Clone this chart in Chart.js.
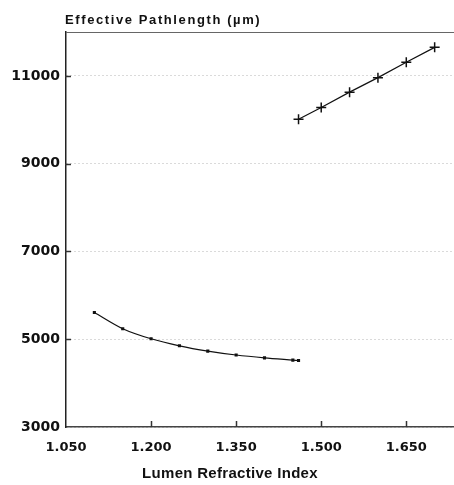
<!DOCTYPE html>
<html>
<head>
<meta charset="utf-8">
<script src="https://cdn.jsdelivr.net/npm/chart.js@4"></script>
<style>
  html, body { margin: 0; padding: 0; background: #fff; overflow: hidden; }
  /* a bit wider than the window: the plot runs off the right edge, as in the figure */
  #wrap { width: 461px; height: 485px; position: relative; }
  canvas { display: block; }
</style>
</head>
<body>
<div id="wrap"><canvas id="chart"></canvas></div>
<script>
// values
const lowerX = [1.10, 1.15, 1.20, 1.25, 1.30, 1.35, 1.40, 1.45, 1.46];
const lowerY = [5610, 5240, 5010, 4850, 4730, 4640, 4575, 4525, 4515];
const upperX = [1.46, 1.50, 1.55, 1.60, 1.65, 1.70];
const upperY = [10010, 10280, 10630, 10960, 11310, 11650];
const xTicks = [1.05, 1.20, 1.35, 1.50, 1.65];
const yTicks = [3000, 5000, 7000, 9000, 11000];
const yTitle = 'Effective Pathlength (µm)';
const xTitle = 'Lumen Refractive Index';

(function() {
  const ink = '#111';

  // inward tick marks, top frame line and the two axis titles
  const decor = {
    id: 'decor',
    afterDraw(chart) {
      const ctx = chart.ctx;
      const area = chart.chartArea;
      const xs = chart.scales.x, ys = chart.scales.y;
      ctx.save();
      ctx.strokeStyle = '#333';
      ctx.lineWidth = 1.5;
      xTicks.slice(1).forEach(v => {
        const px = Math.round(xs.getPixelForValue(v)) + 0.5;
        ctx.beginPath();
        ctx.moveTo(px, area.bottom);
        ctx.lineTo(px, area.bottom - 6);
        ctx.stroke();
      });
      yTicks.slice(1).forEach(v => {
        const py = Math.round(ys.getPixelForValue(v)) + 0.5;
        ctx.beginPath();
        ctx.moveTo(area.left - 1, py);
        ctx.lineTo(area.left + 5, py);
        ctx.stroke();
      });
      // top frame
      ctx.strokeStyle = '#666';
      ctx.lineWidth = 1;
      ctx.beginPath();
      ctx.moveTo(area.left, area.top + 0.5);
      ctx.lineTo(area.right, area.top + 0.5);
      ctx.stroke();

      ctx.fillStyle = ink;
      ctx.textBaseline = 'alphabetic';
      ctx.textAlign = 'left';
      ctx.font = 'bold 13px "Liberation Sans", Arial, sans-serif';
      if ('letterSpacing' in ctx) ctx.letterSpacing = '1.6px';
      ctx.fillText(yTitle, 65, 24);
      if ('letterSpacing' in ctx) ctx.letterSpacing = '0.3px';
      ctx.textAlign = 'center';
      ctx.font = 'bold 15px "Liberation Sans", Arial, sans-serif';
      ctx.fillText(xTitle, 230, 478);
      ctx.restore();
    }
  };

  const el = document.getElementById('chart');
  new Chart(el.getContext('2d'), {
    type: 'scatter',
    data: {
      datasets: [{
        label: 'lower',
        data: lowerX.map((x, i) => ({ x, y: lowerY[i] })),
        showLine: true,
        borderColor: ink,
        borderWidth: 1.2,
        tension: 0.3,
        pointStyle: 'rect',
        pointRadius: 2.2,
        pointBackgroundColor: ink,
        pointBorderColor: ink,
        pointBorderWidth: 0
      }, {
        label: 'upper',
        data: upperX.map((x, i) => ({ x, y: upperY[i] })),
        showLine: true,
        borderColor: ink,
        borderWidth: 1.2,
        tension: 0,
        pointStyle: 'cross',
        pointRadius: 5,
        pointBorderColor: ink,
        pointBorderWidth: 1.5
      }]
    },
    options: {
      responsive: true,
      maintainAspectRatio: false,
      animation: false,
      layout: { padding: { top: 32, right: 0, bottom: 0, left: 0 } },
      plugins: { legend: { display: false }, tooltip: { enabled: false } },
      scales: {
        x: {
          type: 'linear',
          min: 1.05,
          max: 1.735,
          afterBuildTicks: s => { s.ticks = xTicks.map(v => ({ value: v })); },
          afterFit: s => { s.height = 58; },
          grid: { display: false, drawTicks: false },
          border: { display: true, color: '#444', width: 1.5 },
          ticks: {
            padding: 13,
            color: ink,
            maxRotation: 0,
            font: { family: '"DejaVu Sans"', weight: 'bold', size: 13 },
            callback: v => Number(v).toFixed(3)
          }
        },
        y: {
          min: 3000,
          max: 12000,
          afterBuildTicks: s => { s.ticks = yTicks.map(v => ({ value: v })); },
          afterFit: s => { s.width = 66; },
          grid: { display: true, drawTicks: false, color: '#b5b5b5', lineWidth: 1 },
          border: { display: true, color: '#222', width: 1.5, dash: [1, 3] },
          ticks: {
            padding: 6,
            color: ink,
            font: { family: '"DejaVu Sans"', weight: 'bold', size: 14 },
            callback: v => String(v)
          }
        }
      }
    },
    plugins: [decor]
  });
})();
</script>
</body>
</html>
